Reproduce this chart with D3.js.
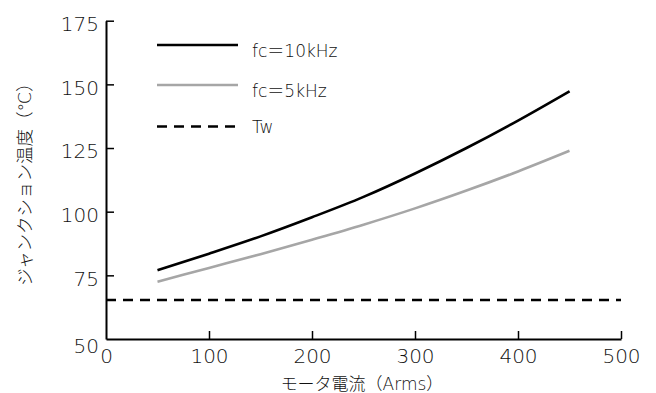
<!DOCTYPE html>
<html>
<head>
<meta charset="utf-8">
<script src="https://cdn.jsdelivr.net/npm/d3@7"></script>
<style>
  body { margin: 0; background: #fff; }
  text { font-family: "DejaVu Sans", "Noto Sans CJK JP", sans-serif; font-weight: 200; }
</style>
</head>
<body>
<div id="chart"></div>
<script>
// motor current (Arms)
const current = [50, 100, 150, 200, 250, 300, 350, 400, 450];
// junction temperature
const temp10k = [77, 83.5, 90.3, 97.8, 105.8, 115, 125, 135.8, 147.3];
const temp5k = [72.5, 77.9, 83.3, 89, 94.9, 101.3, 108.3, 115.8, 123.9];
const tw = 65.3;

const xTicks = [0, 100, 200, 300, 400, 500];
const yTicks = [50, 75, 100, 125, 150, 175];

const seriesNames = ["fc\uFF1D10kHz", "fc\uFF1D5kHz", "Tw"];

const W = 656, H = 393;
const txtColor = "#111";

const svg = d3.select("#chart").append("svg")
    .attr("width", W).attr("height", H);

const x = d3.scaleLinear().domain([0, 500]).range([106, 621]);
const y = d3.scaleLinear().domain([50, 175]).range([339, 20.7]);

/// axes
const xAxis = svg.append("g").attr("transform", "translate(0,339)")
    .call(d3.axisBottom(x).tickValues(xTicks).tickSizeInner(-8).tickSizeOuter(0).tickPadding(10));
const yAxis = svg.append("g").attr("transform", "translate(106,0)")
    .call(d3.axisLeft(y).tickValues(yTicks).tickSizeInner(-8).tickSizeOuter(0).tickPadding(7));

[xAxis, yAxis].forEach(a => {
  a.select(".domain").attr("stroke", "#000").attr("stroke-width", 2);
  a.selectAll(".tick line").attr("stroke", "#000").attr("stroke-width", 1.5);
  a.selectAll(".tick text").attr("font-size", 20).attr("fill", txtColor)
    .style("font-family", "'DejaVu Sans', sans-serif");
});
yAxis.selectAll(".tick text").attr("dy", "0.49em");
xAxis.selectAll(".tick text").attr("dy", "0.7em");
// corner: no tick marks, "50" sits just under the axis
xAxis.selectAll(".tick").filter(d => d === 0).select("line").remove();
yAxis.selectAll(".tick").filter(d => d === 50).select("line").remove();
yAxis.selectAll(".tick").filter(d => d === 50).select("text").attr("dy", "0.65em");

/// curves
const line = d3.line().x((d, i) => x(current[i])).y(d => y(d)).curve(d3.curveMonotoneX);

svg.append("path").datum(temp5k).attr("d", line)
    .attr("fill", "none").attr("stroke", "#a6a6a6").attr("stroke-width", 2.6);
svg.append("path").datum(temp10k).attr("d", line)
    .attr("fill", "none").attr("stroke", "#000").attr("stroke-width", 2.6);

svg.append("line")
    .attr("x1", x(0)).attr("x2", x(500))
    .attr("y1", y(tw)).attr("y2", y(tw))
    .attr("stroke", "#000").attr("stroke-width", 2.4)
    .attr("stroke-dasharray", "10,7");

/// legend
const legend = [
  {name: seriesNames[0], color: "#000", dash: null, ly: 45, ty: 57},
  {name: seriesNames[1], color: "#a6a6a6", dash: null, ly: 85, ty: 97},
  {name: seriesNames[2], color: "#000", dash: "10,7", ly: 126.5, ty: 133}
];
const lg = svg.append("g");
legend.forEach(d => {
  lg.append("line").attr("x1", 157).attr("x2", 238).attr("y1", d.ly).attr("y2", d.ly)
    .attr("stroke", d.color).attr("stroke-width", 2.6)
    .attr("stroke-dasharray", d.dash);
  lg.append("text").attr("x", 252).attr("y", d.ty)
    .attr("font-size", 17).attr("fill", txtColor).text(d.name);
});

/// axis titles
svg.append("text").attr("x", 362).attr("y", 390).attr("text-anchor", "middle")
    .attr("font-size", 17).attr("fill", txtColor).text("モータ電流（Arms）");
svg.append("text")
    .attr("transform", "translate(25,180) rotate(-90)")
    .attr("text-anchor", "middle").attr("dy", "0.35em")
    .attr("font-size", 17.5).attr("fill", txtColor).text("ジャンクション温度（℃）");
</script>
</body>
</html>
